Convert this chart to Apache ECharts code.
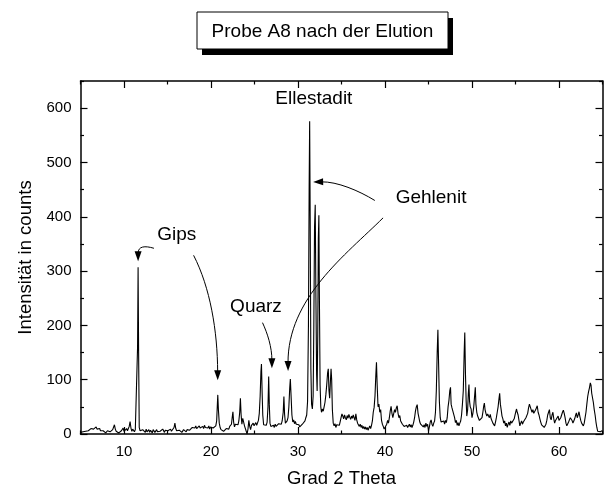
<!DOCTYPE html>
<html><head><meta charset="utf-8">
<script src="https://cdn.jsdelivr.net/npm/echarts@6/dist/echarts.min.js"></script>
<style>html,body{margin:0;padding:0;background:#fff}#c{width:604px;height:493px}</style>
</head><body><div id="c"></div>
<script>
// XRD pattern: [2 theta, counts]
const pattern = [
[5.0,3],[5.1,5],[5.2,2],[5.3,4],[5.4,6],[5.5,3],[5.6,5],[5.7,8],[5.8,4],[5.9,6],
[6.0,9],[6.1,7],[6.2,10],[6.3,8],[6.4,11],[6.5,9],[6.6,12],[6.7,10],[6.8,13],[6.9,9],
[7.0,11],[7.1,7],[7.2,10],[7.3,6],[7.4,8],[7.5,4],[7.6,6],[7.7,3],[7.8,5],[7.9,2],
[8.0,4],[8.1,6],[8.2,3],[8.3,5],[8.4,4],[8.5,7],[8.6,5],[8.7,8],[8.8,11],[8.9,17],
[9.0,9],[9.1,5],[9.2,3],[9.3,6],[9.4,2],[9.5,5],[9.6,3],[9.7,6],[9.8,9],[9.9,11],
[10.0,5],[10.1,8],[10.2,3],[10.3,10],[10.4,6],[10.5,9],[10.6,14],[10.7,23],[10.8,11],[10.9,5],
[11.0,9],[11.1,6],[11.2,4],[11.3,8],[11.4,5],[11.5,10],[11.56,160],[11.62,307],[11.68,150],[11.75,12],
[11.85,6],[11.95,9],[12.05,4],[12.15,8],[12.25,5],[12.35,7],[12.45,3],[12.55,9],[12.65,4],[12.75,6],
[12.85,8],[12.95,3],[13.05,7],[13.15,5],[13.25,2],[13.35,8],[13.45,5],[13.55,3],[13.65,6],[13.75,8],
[13.85,4],[13.95,6],[14.05,3],[14.15,5],[14.25,8],[14.35,4],[14.45,9],[14.55,6],[14.65,3],[14.75,7],
[14.85,5],[14.95,8],[15.05,6],[15.15,4],[15.25,7],[15.35,9],[15.45,5],[15.55,8],[15.65,7],[15.75,12],
[15.85,20],[15.95,10],[16.05,6],[16.15,8],[16.25,4],[16.35,7],[16.45,5],[16.55,9],[16.65,3],[16.75,6],
[16.85,8],[16.95,5],[17.05,7],[17.15,4],[17.25,8],[17.35,6],[17.45,10],[17.55,7],[17.65,5],[17.75,9],
[17.85,12],[17.95,10],[18.05,14],[18.15,11],[18.25,15],[18.35,10],[18.45,13],[18.55,9],[18.65,15],[18.75,11],
[18.85,13],[18.95,8],[19.05,14],[19.15,10],[19.25,16],[19.35,12],[19.45,9],[19.55,14],[19.65,11],[19.75,15],
[19.85,9],[19.95,13],[20.05,10],[20.15,14],[20.25,11],[20.35,8],[20.45,12],[20.55,15],[20.65,24],[20.72,50],
[20.78,72],[20.85,45],[20.95,20],[21.05,12],[21.15,8],[21.25,6],[21.35,9],[21.45,5],[21.55,8],[21.65,4],
[21.75,10],[21.85,7],[21.95,12],[22.05,9],[22.15,14],[22.25,11],[22.35,18],[22.45,32],[22.52,41],[22.6,22],
[22.7,13],[22.8,18],[22.9,15],[23.0,21],[23.1,17],[23.2,24],[23.3,40],[23.38,66],[23.46,36],[23.55,18],
[23.65,29],[23.75,31],[23.85,15],[23.95,12],[24.05,5],[24.15,0],[24.25,9],[24.35,25],[24.45,14],[24.55,8],
[24.65,16],[24.75,13],[24.85,20],[24.95,15],[25.05,18],[25.15,21],[25.25,16],[25.35,19],[25.45,25],[25.55,38],
[25.65,70],[25.74,115],[25.8,129],[25.88,75],[25.95,35],[26.05,17],[26.15,15],[26.25,19],[26.35,16],[26.45,22],
[26.55,50],[26.63,106],[26.7,55],[26.78,20],[26.88,14],[26.98,17],[27.08,13],[27.18,16],[27.28,12],[27.38,18],
[27.48,14],[27.58,17],[27.68,13],[27.78,19],[27.88,16],[27.98,21],[28.08,18],[28.18,24],[28.3,40],[28.38,69],
[28.46,36],[28.55,20],[28.65,17],[28.75,24],[28.85,30],[28.95,50],[29.05,85],[29.12,101],[29.2,72],[29.3,35],
[29.4,22],[29.5,26],[29.6,19],[29.7,23],[29.8,18],[29.9,21],[30.0,15],[30.1,17],[30.2,13],[30.3,16],
[30.4,12],[30.5,18],[30.6,15],[30.7,21],[30.8,24],[30.9,30],[31.0,35],[31.1,60],[31.2,200],[31.28,450],
[31.34,576],[31.4,400],[31.48,120],[31.56,55],[31.65,46],[31.74,70],[31.82,200],[31.9,380],[31.98,422],[32.06,250],
[32.14,110],[32.2,79],[32.27,180],[32.34,360],[32.4,403],[32.46,250],[32.54,90],[32.62,50],[32.7,40],[32.8,46],
[32.9,42],[33.0,50],[33.1,58],[33.2,72],[33.3,90],[33.4,112],[33.48,120],[33.56,80],[33.64,66],[33.72,95],
[33.8,120],[33.87,100],[33.95,45],[34.05,20],[34.15,15],[34.25,19],[34.35,12],[34.45,17],[34.55,14],[34.65,20],
[34.75,16],[34.85,23],[34.95,30],[35.05,37],[35.15,33],[35.25,28],[35.35,35],[35.45,30],[35.55,26],[35.65,34],
[35.75,29],[35.85,36],[35.95,31],[36.05,27],[36.15,33],[36.25,29],[36.35,35],[36.45,30],[36.55,25],[36.65,37],
[36.75,26],[36.85,20],[36.95,17],[37.05,14],[37.15,18],[37.25,12],[37.35,16],[37.45,10],[37.55,14],[37.65,9],
[37.75,13],[37.85,8],[37.95,12],[38.05,7],[38.15,11],[38.25,15],[38.35,10],[38.45,16],[38.55,24],[38.65,40],
[38.75,49],[38.85,70],[38.95,110],[39.02,132],[39.1,90],[39.2,50],[39.3,55],[39.4,40],[39.5,45],[39.6,25],
[39.7,18],[39.8,14],[39.9,9],[40.0,6],[40.1,12],[40.2,18],[40.3,25],[40.4,20],[40.5,30],[40.6,42],
[40.7,51],[40.8,38],[40.9,30],[41.0,33],[41.1,45],[41.2,40],[41.3,48],[41.4,52],[41.5,38],[41.6,30],
[41.7,34],[41.8,24],[41.9,26],[42.0,18],[42.1,20],[42.2,14],[42.3,17],[42.4,11],[42.5,16],[42.6,12],
[42.7,15],[42.8,18],[42.9,13],[43.0,17],[43.1,12],[43.2,16],[43.3,22],[43.4,30],[43.5,42],[43.6,50],
[43.7,54],[43.8,38],[43.9,30],[44.0,22],[44.1,18],[44.2,15],[44.3,19],[44.4,13],[44.5,17],[44.6,12],
[44.7,20],[44.8,14],[44.9,18],[45.0,5],[45.1,13],[45.2,22],[45.3,26],[45.4,18],[45.5,14],[45.6,20],
[45.7,24],[45.8,40],[45.9,80],[46.0,150],[46.08,192],[46.16,130],[46.25,60],[46.35,30],[46.45,22],[46.55,25],
[46.65,19],[46.75,24],[46.85,18],[46.95,25],[47.05,21],[47.15,30],[47.25,50],[47.35,62],[47.45,80],[47.53,86],
[47.6,55],[47.7,48],[47.8,42],[47.9,45],[48.0,30],[48.1,21],[48.2,25],[48.3,16],[48.4,21],[48.5,15],
[48.6,20],[48.7,24],[48.8,35],[48.9,55],[49.0,80],[49.1,150],[49.17,187],[49.25,110],[49.33,60],[49.4,33],
[49.5,45],[49.58,75],[49.65,91],[49.72,60],[49.8,50],[49.9,46],[50.0,30],[50.1,38],[50.2,50],[50.3,70],
[50.38,86],[50.45,55],[50.55,40],[50.65,33],[50.75,36],[50.85,25],[50.95,28],[51.05,23],[51.15,30],[51.25,40],
[51.35,52],[51.42,57],[51.5,45],[51.6,38],[51.7,33],[51.8,37],[51.9,40],[52.0,30],[52.1,36],[52.2,28],
[52.3,25],[52.4,20],[52.5,18],[52.6,15],[52.7,22],[52.8,30],[52.9,40],[53.0,50],[53.1,65],[53.18,75],
[53.26,55],[53.35,45],[53.45,33],[53.55,28],[53.65,20],[53.75,24],[53.85,15],[53.95,20],[54.05,12],[54.15,18],
[54.25,22],[54.35,16],[54.45,24],[54.55,20],[54.65,17],[54.75,22],[54.85,28],[54.95,35],[55.05,42],[55.12,46],
[55.2,40],[55.3,35],[55.4,25],[55.5,15],[55.6,20],[55.7,24],[55.8,18],[55.9,22],[56.0,20],[56.1,24],
[56.2,30],[56.3,28],[56.4,38],[56.5,48],[56.6,55],[56.7,50],[56.8,45],[56.9,40],[57.0,45],[57.1,38],
[57.2,35],[57.3,44],[57.4,48],[57.5,52],[57.6,40],[57.7,35],[57.8,28],[57.9,22],[58.0,17],[58.1,20],
[58.2,15],[58.3,12],[58.4,9],[58.5,18],[58.6,25],[58.7,35],[58.8,40],[58.9,45],[59.0,30],[59.1,26],
[59.2,35],[59.3,40],[59.4,28],[59.5,20],[59.6,25],[59.7,22],[59.8,28],[59.9,33],[60.0,25],[60.1,22],
[60.2,30],[60.3,35],[60.4,40],[60.5,44],[60.6,38],[60.7,30],[60.8,20],[60.9,15],[61.0,18],[61.1,22],
[61.2,26],[61.3,30],[61.4,33],[61.5,25],[61.6,20],[61.7,24],[61.8,28],[61.9,34],[62.0,39],[62.1,30],
[62.2,35],[62.3,41],[62.4,32],[62.5,25],[62.6,20],[62.7,18],[62.8,15],[62.9,20],[63.0,30],[63.1,40],
[63.2,55],[63.3,69],[63.4,78],[63.5,85],[63.6,94],[63.68,90],[63.76,75],[63.85,72],[63.95,58],[64.05,45],
[64.15,35],[64.25,22],[64.35,12],[64.45,5],[64.55,3],[64.65,6],[64.75,4],[64.85,5],[64.95,6],[65.0,5]
];

const xMajorTicks = [10, 20, 30, 40, 50, 60];
const xMinorTicks = [5, 15, 25, 35, 45, 55, 65];
const yMajorTicks = [0, 100, 200, 300, 400, 500, 600];
const yMinorTicks = [50, 150, 250, 350, 450, 550, 650];

const titleText = 'Probe A8 nach der Elution';
const xName = 'Grad 2 Theta';
const yName = 'Intensität in counts';

// annotation labels: [text, 2theta, counts] (label centre)
const labels = [
  ['Ellestadit', 31.82, 617],
  ['Gehlenit', 45.29, 435],
  ['Quarz', 25.17, 235],
  ['Gips', 16.07, 366]
];
// arrows: cubic bezier in data coords [start, ctrl1, ctrl2, tip]
const arrows = [
  [[13.44, 342], [12.4, 347], [11.62, 346], [11.62, 318]],
  [[18.0, 329], [19.9, 270], [20.75, 190], [20.77, 99]],
  [[25.92, 205], [26.5, 185], [27.0, 160], [27.0, 121]],
  [[38.83, 430], [37.0, 448], [34.5, 465], [31.74, 464]],
  [[39.78, 398], [35.5, 330], [28.8, 250], [28.86, 116]]
];

const FONT = '"Liberation Sans", Arial, sans-serif';
const BLACK = '#000';

function xAxisDef(pos, ticks, len, withLabels, withLine) {
  const a = {
    type: 'value', min: 5, max: 65, interval: 5, position: pos, gridIndex: 0,
    axisLine: {show: withLine, onZero: false, lineStyle: {color: BLACK, width: 1.5}},
    axisTick: {show: true, inside: true, length: len, customValues: ticks, lineStyle: {color: BLACK, width: 1.2}},
    axisLabel: {show: withLabels, customValues: xMajorTicks, color: BLACK, fontFamily: FONT, fontSize: 15, margin: 10},
    splitLine: {show: false}
  };
  if (withLabels) {
    a.name = xName; a.nameLocation = 'middle'; a.nameGap = 35;
    a.nameTextStyle = {color: BLACK, fontFamily: FONT, fontSize: 18.5};
  }
  return a;
}
function yAxisDef(pos, ticks, len, withLabels, withLine) {
  const a = {
    type: 'value', min: 0, max: 650, interval: 50, position: pos, gridIndex: 0,
    axisLine: {show: withLine, onZero: false, lineStyle: {color: BLACK, width: 1.5}},
    axisTick: {show: true, inside: true, length: len, customValues: ticks, lineStyle: {color: BLACK, width: 1.2}},
    axisLabel: {show: withLabels, customValues: yMajorTicks, color: BLACK, fontFamily: FONT, fontSize: 15, margin: 9},
    splitLine: {show: false}
  };
  if (withLabels) {
    a.name = yName; a.nameLocation = 'middle'; a.nameGap = 42; a.nameRotate = 90;
    a.nameTextStyle = {color: BLACK, fontFamily: FONT, fontSize: 18.5};
  }
  return a;
}

const chart = echarts.init(document.getElementById('c'), null, {renderer: 'canvas'});
chart.setOption({
  animation: false,
  backgroundColor: '#fff',
  grid: {left: 80.5, top: 81, right: 1.5, bottom: 54.5, containLabel: false},
  xAxis: [
    xAxisDef('bottom', xMajorTicks, 7, true, true),
    xAxisDef('bottom', xMinorTicks, 3.5, false, false),
    xAxisDef('top', xMajorTicks, 7, false, true),
    xAxisDef('top', xMinorTicks, 3.5, false, false)
  ],
  yAxis: [
    yAxisDef('left', yMajorTicks, 7, true, true),
    yAxisDef('left', yMinorTicks, 3.5, false, false),
    yAxisDef('right', yMajorTicks, 7, false, true),
    yAxisDef('right', yMinorTicks, 3.5, false, false)
  ],
  series: [{
    type: 'line', xAxisIndex: 0, yAxisIndex: 0, data: pattern,
    showSymbol: false, symbol: 'none', lineStyle: {color: BLACK, width: 1.1}, z: 3
  }]
});

// Build title box and annotations
const g = [];
const box = {x: 197, y: 12, w: 251, h: 37, sx: 5, sy: 6};
g.push({type: 'rect', shape: {x: box.x + box.sx, y: box.y + box.sy, width: box.w, height: box.h}, style: {fill: BLACK}, z: 10});
g.push({type: 'rect', shape: {x: box.x, y: box.y, width: box.w, height: box.h}, style: {fill: '#fff', stroke: BLACK, lineWidth: 1}, z: 11});
g.push({type: 'text', x: box.x + box.w / 2, y: box.y + box.h / 2 + 1, z: 12,
  style: {text: titleText, fill: BLACK, font: '19px ' + FONT, textAlign: 'center', textVerticalAlign: 'middle'}});

const toPx = p => chart.convertToPixel({seriesIndex: 0}, p);
labels.forEach(([t, x, y]) => {
  const p = toPx([x, y]);
  g.push({type: 'text', x: p[0], y: p[1], z: 12,
    style: {text: t, fill: BLACK, font: '19px ' + FONT, textAlign: 'center', textVerticalAlign: 'middle'}});
});
arrows.forEach(a => {
  const P = a.map(toPx);
  const T = P[3], C = P[2];
  let dx = T[0] - C[0], dy = T[1] - C[1];
  const d = Math.hypot(dx, dy); dx /= d; dy /= d;
  const L = 10, W = 3.5;
  const B = [T[0] - dx * L, T[1] - dy * L];
  const nx = -dy, ny = dx;
  g.push({type: 'bezierCurve', z: 12,
    shape: {x1: P[0][0], y1: P[0][1], cpx1: P[1][0], cpy1: P[1][1], cpx2: P[2][0], cpy2: P[2][1], x2: B[0] + dx * 2, y2: B[1] + dy * 2},
    style: {stroke: BLACK, fill: null, lineWidth: 1}});
  g.push({type: 'polygon', z: 12,
    shape: {points: [T, [B[0] + nx * W, B[1] + ny * W], [B[0] - nx * W, B[1] - ny * W]]},
    style: {fill: BLACK}});
});
chart.setOption({graphic: g});
</script>
</body></html>
